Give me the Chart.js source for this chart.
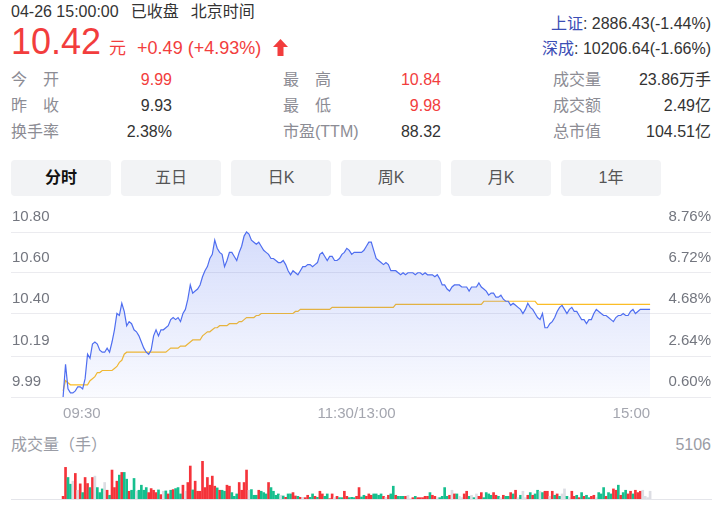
<!DOCTYPE html>
<html>
<head>
<meta charset="utf-8">
<script src="https://cdn.jsdelivr.net/npm/chart.js@4.4.0/dist/chart.umd.min.js"></script>
<style>
    body {
        margin: 0;
        width: 727px;
        height: 517px;
        overflow: hidden;
        position: relative;
        background: #fff;
        color: #333;
        font-family: "Liberation Sans", Arial, "Noto Sans CJK SC", sans-serif;
    }
    .abs { position: absolute; white-space: nowrap; }
    .red { color: #f23d3d; }
    .lbl { color: #8c8c94; font-size: 16px; line-height: 26px; }
    .val { font-size: 16px; line-height: 26px; text-align: right; }
    .sp { display: inline-block; width: 48px; text-align: justify; text-align-last: justify; }
    .tab {
        position: absolute; top: 160px; width: 100px; height: 36px; line-height: 36px;
        background: #f2f3f5; border-radius: 4px; text-align: center; font-size: 16px; color: #555;
    }
    canvas { position: absolute; left: 0; }
</style>
</head>
<body>
<div class="abs" style="left:11px;top:3px;font-size:16px;line-height:18px;">
    04-26 15:00:00<span style="margin-left:12px">已收盘</span><span style="margin-left:12px">北京时间</span>
</div>
<div class="abs red" style="left:11px;top:22px;display:flex;align-items:baseline;">
    <span style="font-size:36px;line-height:40px;">10.42</span>
    <span style="font-size:17px;margin-left:8px;">元</span>
    <span style="font-size:18px;margin-left:11px;">+0.49 (+4.93%)</span>
    <svg style="margin-left:12px;position:relative;top:2px;" width="15" height="17" viewBox="0 0 15 17"><path d="M7.5 0 L15 8 L10.5 8 L10.5 17 L4.5 17 L4.5 8 L0 8 Z" fill="#f23d3d"/></svg>
</div>
<div class="abs" style="right:16px;top:15px;font-size:16px;line-height:18px;"><span style="color:#3b4db5">上证</span>: 2886.43(-1.44%)</div>
<div class="abs" style="right:16px;top:40px;font-size:16px;line-height:18px;"><span style="color:#3b4db5">深成</span>: 10206.64(-1.66%)</div>

<div class="abs lbl" style="left:11px;top:67px;"><span class="sp">今开</span></div>
<div class="abs val red" style="right:555px;top:67px;">9.99</div>
<div class="abs lbl" style="left:11px;top:93px;"><span class="sp">昨收</span></div>
<div class="abs val" style="right:555px;top:93px;">9.93</div>
<div class="abs lbl" style="left:11px;top:119px;">换手率</div>
<div class="abs val" style="right:555px;top:119px;">2.38%</div>

<div class="abs lbl" style="left:283px;top:67px;"><span class="sp">最高</span></div>
<div class="abs val red" style="right:286px;top:67px;">10.84</div>
<div class="abs lbl" style="left:283px;top:93px;"><span class="sp">最低</span></div>
<div class="abs val red" style="right:286px;top:93px;">9.98</div>
<div class="abs lbl" style="left:283px;top:119px;">市盈(TTM)</div>
<div class="abs val" style="right:286px;top:119px;">88.32</div>

<div class="abs lbl" style="left:553px;top:67px;">成交量</div>
<div class="abs val" style="right:16px;top:67px;">23.86万手</div>
<div class="abs lbl" style="left:553px;top:93px;">成交额</div>
<div class="abs val" style="right:16px;top:93px;">2.49亿</div>
<div class="abs lbl" style="left:553px;top:119px;">总市值</div>
<div class="abs val" style="right:16px;top:119px;">104.51亿</div>

<div class="tab" style="left:11px;color:#111;font-weight:bold;">分时</div>
<div class="tab" style="left:121px;">五日</div>
<div class="tab" style="left:231px;">日K</div>
<div class="tab" style="left:341px;">周K</div>
<div class="tab" style="left:451px;">月K</div>
<div class="tab" style="left:561px;">1年</div>

<canvas id="priceChart" width="727" height="230" style="top:200px"></canvas>

<div class="abs" style="left:11px;top:435px;font-size:16px;line-height:20px;color:#9a9ca5;">成交量（手）</div>
<div class="abs" id="volMax" style="right:16px;top:435px;font-size:16px;line-height:20px;color:#9a9ca5;"></div>
<canvas id="volChart" width="727" height="50" style="top:455px"></canvas>

<script>
// ---- data ----
const prevClose = 9.93;
const timeTicks = [0, 120, 240];
const timeLabels = ['09:30', '11:30/13:00', '15:00'];
const priceTicks = [9.99, 10.19, 10.40, 10.60, 10.80];
const pctTicks = ['0.60%', '2.64%', '4.68%', '6.72%', '8.76%'];
const volMax = 5106;

// price, one point per minute: morning (09:30-11:30) and afternoon (13:01-15:00)
const pricesAM = [
    9.99, 10.15, 10.03, 10.01, 10.01, 10.02, 10.04, 10.04, 10.03, 10.08,
    10.20, 10.18, 10.25, 10.26, 10.25, 10.22, 10.21, 10.21, 10.23, 10.21,
    10.26, 10.32, 10.40, 10.39, 10.45, 10.41, 10.34, 10.36, 10.35, 10.32,
    10.31, 10.29, 10.26, 10.23, 10.21, 10.20, 10.22, 10.29, 10.32, 10.29,
    10.32, 10.32, 10.33, 10.34, 10.37, 10.38, 10.37, 10.38, 10.36, 10.40,
    10.42, 10.47, 10.54, 10.50, 10.51, 10.52, 10.54, 10.58, 10.61, 10.63,
    10.67, 10.69, 10.76, 10.72, 10.70, 10.69, 10.63, 10.66, 10.70, 10.70,
    10.68, 10.66, 10.70, 10.73, 10.78, 10.80, 10.79, 10.76, 10.75, 10.74,
    10.75, 10.73, 10.71, 10.70, 10.69, 10.67, 10.67, 10.66, 10.65, 10.65,
    10.66, 10.64, 10.61, 10.59, 10.61, 10.60, 10.59, 10.61, 10.63, 10.63,
    10.64, 10.64, 10.63, 10.64, 10.65, 10.69, 10.70, 10.68, 10.66, 10.68,
    10.68, 10.66, 10.66, 10.67, 10.69, 10.70, 10.72, 10.71, 10.69, 10.70, 10.70
];
const pricesPM = [
    10.70, 10.70, 10.71, 10.73, 10.75, 10.75, 10.71, 10.67, 10.66, 10.65,
    10.64, 10.65, 10.64, 10.61, 10.61, 10.61, 10.60, 10.59, 10.60, 10.59,
    10.60, 10.60, 10.60, 10.59, 10.60, 10.60, 10.59, 10.60, 10.59, 10.59,
    10.59, 10.58, 10.59, 10.57, 10.54, 10.54, 10.52, 10.51, 10.53, 10.54,
    10.54, 10.54, 10.53, 10.53, 10.53, 10.51, 10.53, 10.53, 10.53, 10.55,
    10.53, 10.52, 10.51, 10.49, 10.50, 10.50, 10.48, 10.48, 10.49, 10.47,
    10.46, 10.46, 10.44, 10.45, 10.44, 10.43, 10.42, 10.40, 10.42, 10.45,
    10.43, 10.42, 10.40, 10.38, 10.37, 10.40, 10.33, 10.33, 10.35, 10.36,
    10.38, 10.41, 10.43, 10.44, 10.42, 10.40, 10.42, 10.43, 10.41, 10.41,
    10.39, 10.37, 10.37, 10.35, 10.37, 10.37, 10.40, 10.42, 10.41, 10.40,
    10.39, 10.39, 10.38, 10.37, 10.36, 10.38, 10.39, 10.39, 10.40, 10.39,
    10.39, 10.41, 10.42, 10.40, 10.41, 10.42, 10.42, 10.42, 10.42, 10.42
];

// average price line
const avgAM = [
    10.02, 10.07, 10.06, 10.05, 10.05, 10.05, 10.05, 10.05, 10.05, 10.05,
    10.05, 10.07, 10.08, 10.09, 10.11, 10.11, 10.12, 10.12, 10.12, 10.12,
    10.12, 10.13, 10.14, 10.16, 10.17, 10.20, 10.21, 10.21, 10.21, 10.21,
    10.21, 10.21, 10.21, 10.21, 10.21, 10.21, 10.21, 10.21, 10.21, 10.21,
    10.21, 10.21, 10.21, 10.22, 10.23, 10.23, 10.23, 10.23, 10.24, 10.24,
    10.24, 10.25, 10.26, 10.27, 10.27, 10.27, 10.27, 10.29, 10.30, 10.31,
    10.31, 10.32, 10.33, 10.33, 10.34, 10.34, 10.34, 10.34, 10.35, 10.35,
    10.35, 10.35, 10.36, 10.36, 10.37, 10.38, 10.38, 10.38, 10.38, 10.39,
    10.39, 10.40, 10.40, 10.40, 10.40, 10.40, 10.40, 10.40, 10.40, 10.40,
    10.40, 10.40, 10.40, 10.40, 10.40, 10.41, 10.41, 10.42, 10.42, 10.42,
    10.42, 10.42, 10.42, 10.42, 10.42, 10.42, 10.42, 10.42, 10.42, 10.42,
    10.43, 10.43, 10.43, 10.43, 10.43, 10.43, 10.43, 10.43, 10.43, 10.43, 10.43
];
const avgPM = [
    10.43, 10.43, 10.43, 10.43, 10.43, 10.43, 10.43, 10.43, 10.43, 10.43,
    10.43, 10.43, 10.43, 10.43, 10.43, 10.445, 10.445, 10.445, 10.445, 10.445,
    10.445, 10.445, 10.445, 10.445, 10.445, 10.445, 10.445, 10.445, 10.445, 10.445,
    10.445, 10.445, 10.445, 10.445, 10.445, 10.445, 10.445, 10.445, 10.445, 10.445,
    10.445, 10.445, 10.445, 10.445, 10.445, 10.445, 10.445, 10.445, 10.445, 10.445,
    10.445, 10.46, 10.46, 10.46, 10.46, 10.46, 10.46, 10.46, 10.46, 10.46,
    10.46, 10.46, 10.46, 10.46, 10.46, 10.46, 10.46, 10.46, 10.46, 10.46,
    10.46, 10.46, 10.46, 10.445, 10.445, 10.445, 10.445, 10.445, 10.445, 10.445,
    10.445, 10.445, 10.445, 10.445, 10.445, 10.445, 10.445, 10.445, 10.445, 10.445,
    10.445, 10.445, 10.445, 10.445, 10.445, 10.445, 10.445, 10.445, 10.445, 10.445,
    10.445, 10.445, 10.445, 10.445, 10.445, 10.445, 10.445, 10.445, 10.445, 10.445,
    10.445, 10.445, 10.445, 10.445, 10.445, 10.445, 10.445, 10.445, 10.445, 10.445
];

// volume per minute (手) and its direction: 1 up, -1 down, 0 flat
const volAM = [
    360, 4250, 2890, 1990, 2395, 3435, 1175, 2035, 860, 2890,
    2080, 1535, 2890, 3075, 1535, 860, 1355, 2215, 1175, 500,
    3890, 1535, 2395, 3210, 3570, 3570, 2665, 1040, 1175, 2760,
    1040, 1175, 1855, 1175, 1535, 860, 1400, 1175, 860, 1220,
    590, 1040, 1085, 680, 1175, 1265, 1400, 1535, 680, 1855,
    1040, 2215, 4430, 1220, 2395, 1040, 1040, 5106, 1535, 2890,
    1855, 3075, 1720, 1490, 1175, 1175, 1040, 1855, 1720, 860,
    360, 680, 2215, 1175, 2215, 3890, 1175, 1265, 500, 500,
    1175, 1040, 860, 680, 2215, 1535, 1040, 500, 680, 500,
    405, 225, 680, 680, 860, 405, 360, 225, 225, 180,
    500, 225, 680, 360, 225, 1040, 680, 360, 680, 45,
    680, 180, 360, 180, 180, 1040, 360, 180, 225, 180, 360
];
const volPM = [
    1535, 270, 500, 360, 680, 500, 680, 680, 500, 680,
    360, 225, 500, 680, 1720, 500, 360, 360, 360, 360,
    500, 45, 180, 360, 180, 180, 180, 360, 360, 860,
    500, 360, 180, 180, 360, 1535, 360, 500, 1175, 680,
    680, 360, 180, 680, 1040, 360, 500, 180, 680, 360,
    860, 180, 860, 680, 500, 860, 500, 360, 180, 500,
    360, 360, 860, 680, 1175, 180, 500, 1040, 180, 500,
    860, 500, 680, 1175, 1040, 860, 1040, 1040, 360, 1040,
    500, 680, 360, 680, 1355, 360, 180, 1040, 360, 500,
    180, 860, 360, 500, 180, 360, 500, 180, 860, 680,
    1535, 360, 860, 680, 1355, 1175, 1855, 500, 860, 1175,
    680, 1040, 680, 1175, 860, 1040, 1175, 360, 180, 1040
];
const trendAM = [
    1, 1, -1, -1, 0, 1, 0, 1, -1, 1,
    1, -1, 1, 0, -1, -1, -1, 0, 1, -1,
    1, 1, 1, -1, 1, -1, -1, 1, -1, -1,
    0, -1, -1, -1, -1, 1, 1, 1, 1, -1,
    1, 0, -1, 1, -1, 1, -1, -1, -1, 1,
    0, 1, 1, -1, 1, 1, 1, 1, 1, 1,
    1, 1, 1, -1, 1, -1, -1, 1, 1, -1,
    -1, -1, 1, 1, 1, 1, 0, -1, -1, -1,
    1, -1, -1, -1, 1, -1, -1, -1, -1, 0,
    -1, 1, -1, -1, 1, 1, -1, 1, 0, 1,
    1, -1, -1, 1, -1, 1, 1, -1, -1, 1,
    1, 0, 1, -1, -1, 1, 1, -1, -1, -1, 1
];
const trendPM = [
    1, -1, -1, 1, 1, 1, -1, -1, -1, -1,
    1, 0, 1, -1, -1, 1, -1, -1, -1, 1,
    0, 0, 1, -1, 1, 1, 1, 1, 1, -1,
    1, 1, 0, -1, -1, -1, -1, 1, 0, 1,
    -1, 0, 0, 1, 1, -1, 0, -1, 0, 1,
    1, -1, -1, -1, -1, 1, 1, -1, 0, 1,
    -1, -1, 1, -1, 1, 0, -1, 0, 0, 1,
    -1, 1, -1, -1, 0, -1, 1, 1, 0, 1,
    -1, 1, -1, 0, 0, -1, 0, 1, 1, -1,
    1, -1, 1, -1, -1, 1, 1, 0, -1, -1,
    -1, 1, -1, -1, 1, 1, -1, 1, -1, -1,
    1, 1, -1, 1, 1, 1, 0, 0, 0, 0
];

const prices = pricesAM.concat(pricesPM);
const avgPrices = avgAM.concat(avgPM);
const volumes = volAM.concat(volPM);
const trends = trendAM.concat(trendPM);

const RED = '#f5333a';
const GREEN = '#16bf8e';
const GRAY = '#dcdde3';
const X_MIN = -21.3;
const X_MAX = 264.9;

Chart.defaults.font.family = '"Liberation Sans", Arial, sans-serif';

document.getElementById('volMax').textContent = volMax;

// price / average chart
new Chart(document.getElementById('priceChart'), {
    type: 'line',
    data: {
        datasets: [{
            data: prices.map((p, i) => ({ x: i, y: p })),
            borderColor: '#4f6ef0',
            borderWidth: 1.2,
            pointRadius: 0,
            tension: 0,
            clip: false,
            fill: 'start',
            backgroundColor: function(ctx) {
                const area = ctx.chart.chartArea;
                if (!area) return 'rgba(79,110,240,0.1)';
                const g = ctx.chart.ctx.createLinearGradient(0, area.top, 0, area.bottom);
                g.addColorStop(0, 'rgba(79,110,240,0.24)');
                g.addColorStop(1, 'rgba(79,110,240,0.03)');
                return g;
            }
        }, {
            data: avgPrices.map((p, i) => ({ x: i, y: p })),
            borderColor: '#fbbd26',
            borderWidth: 1.2,
            pointRadius: 0,
            tension: 0,
            clip: false,
            fill: false
        }]
    },
    options: {
        responsive: false,
        animation: false,
        devicePixelRatio: 1,
        events: [],
        plugins: { legend: { display: false }, tooltip: { enabled: false } },
        layout: { padding: { left: 11, right: 16, top: 32, bottom: 5 } },
        scales: {
            x: {
                type: 'linear',
                min: X_MIN,
                max: X_MAX,
                grid: { display: false },
                border: { display: false },
                afterBuildTicks: function(scale) {
                    scale.ticks = timeTicks.map(v => ({ value: v }));
                },
                afterFit: function(scale) { scale.height = 28; },
                ticks: {
                    align: 'inner',
                    maxRotation: 0,
                    autoSkip: false,
                    padding: 0,
                    color: '#a4a6af',
                    font: { size: 15 },
                    callback: (v, i) => timeLabels[i]
                }
            },
            y: {
                position: 'left',
                min: 9.99,
                max: 10.80,
                border: { display: false },
                grid: { color: '#ebebef', drawTicks: false },
                afterBuildTicks: function(scale) {
                    scale.ticks = priceTicks.map(v => ({ value: v }));
                },
                afterFit: function(scale) { scale.width = 0; },
                ticks: {
                    mirror: true,
                    padding: 1,
                    labelOffset: -15,
                    color: '#73767f',
                    font: { size: 15 },
                    callback: (v, i) => priceTicks[i].toFixed(2)
                }
            },
            y1: {
                position: 'right',
                min: 9.99,
                max: 10.80,
                border: { display: false },
                grid: { display: false, drawTicks: false },
                afterBuildTicks: function(scale) {
                    scale.ticks = priceTicks.map(v => ({ value: v }));
                },
                afterFit: function(scale) { scale.width = 0; },
                ticks: {
                    mirror: true,
                    padding: 0,
                    labelOffset: -15,
                    color: '#73767f',
                    font: { size: 15 },
                    callback: (v, i) => pctTicks[i]
                }
            }
        }
    }
});

// volume bars
new Chart(document.getElementById('volChart'), {
    type: 'bar',
    data: {
        datasets: [{
            data: volumes.map((v, i) => ({ x: i, y: v })),
            backgroundColor: trends.map(t => t > 0 ? RED : (t < 0 ? GREEN : GRAY)),
            barThickness: 2,
            borderWidth: 0
        }]
    },
    options: {
        responsive: false,
        animation: false,
        devicePixelRatio: 1,
        events: [],
        plugins: { legend: { display: false }, tooltip: { enabled: false } },
        layout: { padding: { left: 11, right: 16, top: 6, bottom: 6 } },
        scales: {
            x: {
                type: 'linear',
                min: X_MIN,
                max: X_MAX,
                offset: false,
                grid: { display: false },
                border: { display: true, color: '#e4e5ea' },
                ticks: { display: false },
                afterFit: function(scale) { scale.height = 0; }
            },
            y: { min: 0, max: volMax, display: false }
        }
    }
});
</script>
</body>
</html>
